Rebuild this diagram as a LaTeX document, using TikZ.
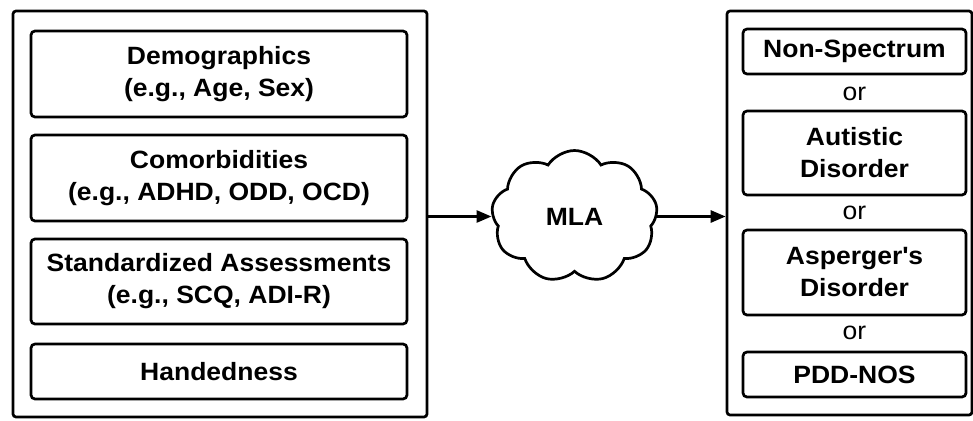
\documentclass[tikz,border=0pt]{standalone}
\usepackage{fontspec}
\setmainfont{Liberation Sans}[FakeStretch=1.06]
\usetikzlibrary{positioning,arrows.meta,shapes.symbols}

\begin{document}
\begin{tikzpicture}[x=1pt,y=-1pt,
    frame/.style={draw,line width=2.7pt,rounded corners=3pt,inner sep=0pt},
    featbox/.style={draw,line width=2.7pt,rounded corners=4pt,align=center,inner sep=0pt,
      font=\fontsize{25}{32}\selectfont\bfseries},
    orlabel/.style={inner sep=0pt,font=\fontsize{25}{32}\selectfont},
    arr/.style={line width=2.7pt,-{Triangle[length=15pt,width=12pt]}}]
  \useasboundingbox (0,0) rectangle (973,420);
  % input features
  \node[frame,minimum width=414,minimum height=406] (inputs) at (220,214) {};
  \foreach \ftext/\fy/\fh [count=\fnum] in {
      {Demographics\\(e.g., Age, Sex)}/74/86,
      {Comorbidities\\(e.g., ADHD, ODD, OCD)}/178/86,
      {Standardized Assessments\\(e.g., SCQ, ADI-R)}/281.5/85,
      {Handedness}/371.5/55} {
    \node[featbox,minimum width=376,minimum height=\fh] (feat\fnum) at (219,\fy) {\ftext};
  }
  % classifier
  \node[cloud,draw,line width=2.7pt,cloud puffs=9,cloud puff arc=115,aspect=1.27,
    inner sep=0pt,minimum width=166,minimum height=132,
    font=\fontsize{25}{32}\selectfont\bfseries] (mla) at (574.5,216.5) {MLA};
  % diagnoses
  \node[frame,minimum width=245,minimum height=404] (outputs) at (849.5,213) {};
  \foreach \dtext/\dy/\dh [count=\dnum] in {
      {Non-Spectrum}/51.5/45,
      {Autistic\\Disorder}/153/84,
      {Asperger\textquotesingle s\\Disorder}/272.5/85,
      {PDD-NOS}/374.5/45} {
    \node[featbox,minimum width=223,minimum height=\dh] (diag\dnum) at (854.5,\dy) {\dtext};
  }
  \foreach \oy [count=\onum] in {94,213,333}
    \node[orlabel] (or\onum) at (854.5,\oy) {or};
  % flow
  \draw[arr] (inputs.east |- mla.west) -- (mla.west);
  \draw[arr] (mla.east) -- (outputs.west |- mla.east);
\end{tikzpicture}
\end{document}
